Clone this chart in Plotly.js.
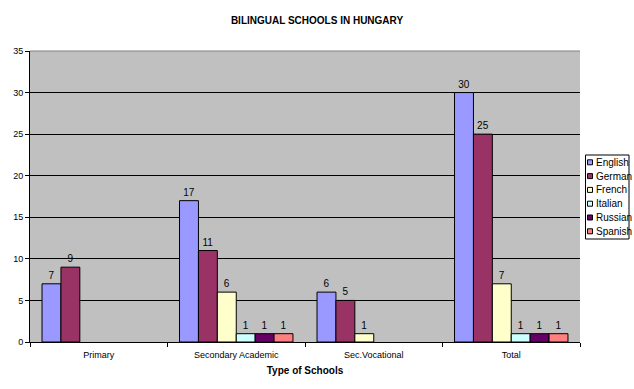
<!DOCTYPE html>
<html><head><meta charset="utf-8">
<script src="https://cdn.plot.ly/plotly-3.0.1.min.js"></script>
<style>html,body{margin:0;padding:0;background:#fff}</style>
</head><body><div id="chart" style="width:634px;height:389px"></div>
<script>
const categories = ["Primary", "Secondary Academic", "Sec.Vocational", "Total"];
const english = [7, 17, 6, 30];
const german = [9, 11, 5, 25];
const french = [null, 6, 1, 7];
const italian = [null, 1, null, 1];
const russian = [null, 1, null, 1];
const spanish = [null, 1, null, 1];
const seriesNames = ["English", "German", "French", "Italian", "Russian", "Spanish"];
const seriesData = [english, german, french, italian, russian, spanish];
const colors = ["#9999FF", "#993366", "#FFFFCC", "#CCFFFF", "#660066", "#FF8080"];

const traces = seriesNames.map((n, i) => ({
  type: "bar", name: n, x: categories, y: seriesData[i],
  marker: {color: colors[i], line: {color: "#000", width: 1}},
  text: seriesData[i].map(v => v == null ? "" : String(v)),
  textposition: "outside", cliponaxis: false,
  textfont: {family: "Arial, Liberation Sans", size: 10, color: "#000"},
  hoverinfo: "none", showlegend: false
}));

// plot area geometry (pixels) for legend placement
const L = 30, R = 580, T = 51, B = 342;
const px = x => (x - L) / (R - L);
const py = y => (B - y) / (B - T);

const shapes = [
  {type: "line", xref: "paper", yref: "paper", x0: 0, x1: 1, y0: 1, y1: 1, line: {color: "#808080", width: 1}},
  {type: "rect", xref: "paper", yref: "paper", x0: px(585.5), x1: px(629), y0: py(155), y1: py(239),
   fillcolor: "#fff", line: {color: "#000", width: 1}}
];
const annotations = [];
seriesNames.forEach((n, i) => {
  const cy = 162.3 + i * 13.8;
  shapes.push({type: "rect", xref: "paper", yref: "paper", x0: px(587.5), x1: px(592.5), y0: py(cy + 2.5), y1: py(cy - 2.5),
    fillcolor: colors[i], line: {color: "#000", width: 1}});
  annotations.push({xref: "paper", yref: "paper", x: px(593.5), y: py(cy), xanchor: "left", yanchor: "middle",
    text: n, showarrow: false, font: {family: "Arial, Liberation Sans", size: 10, color: "#000"}});
});

const layout = {
  width: 634, height: 389,
  margin: {l: L, r: 634 - R, t: T, b: 389 - B, autoexpand: false},
  paper_bgcolor: "#fff", plot_bgcolor: "#C0C0C0",
  font: {family: "Arial, Liberation Sans", size: 10, color: "#000"},
  title: {text: "<b>BILINGUAL SCHOOLS IN HUNGARY</b>", x: 0.5, xanchor: "center", y: 0.948, yanchor: "middle",
          font: {family: "Arial, Liberation Sans", size: 10, color: "#000"}},
  barmode: "group", bargap: 0.175, bargroupgap: 0,
  showlegend: false,
  xaxis: {type: "category", showline: true, linecolor: "#000", linewidth: 1, ticks: "outside", tickson: "boundaries",
          ticklen: 4, tickcolor: "#000", showgrid: false, tickfont: {size: 9}, ticklabelstandoff: 4,
          title: {text: "<b>Type of Schools</b>", font: {size: 10}, standoff: 8}},
  yaxis: {range: [0, 35], dtick: 5, showline: true, linecolor: "#000", linewidth: 1, ticks: "outside", ticklen: 4,
          tickcolor: "#000", showgrid: true, gridcolor: "#000", gridwidth: 1, zeroline: false, tickfont: {size: 9}},
  shapes: shapes, annotations: annotations
};
Plotly.newPlot("chart", traces, layout, {displayModeBar: false, staticPlot: true});
</script></body></html>
